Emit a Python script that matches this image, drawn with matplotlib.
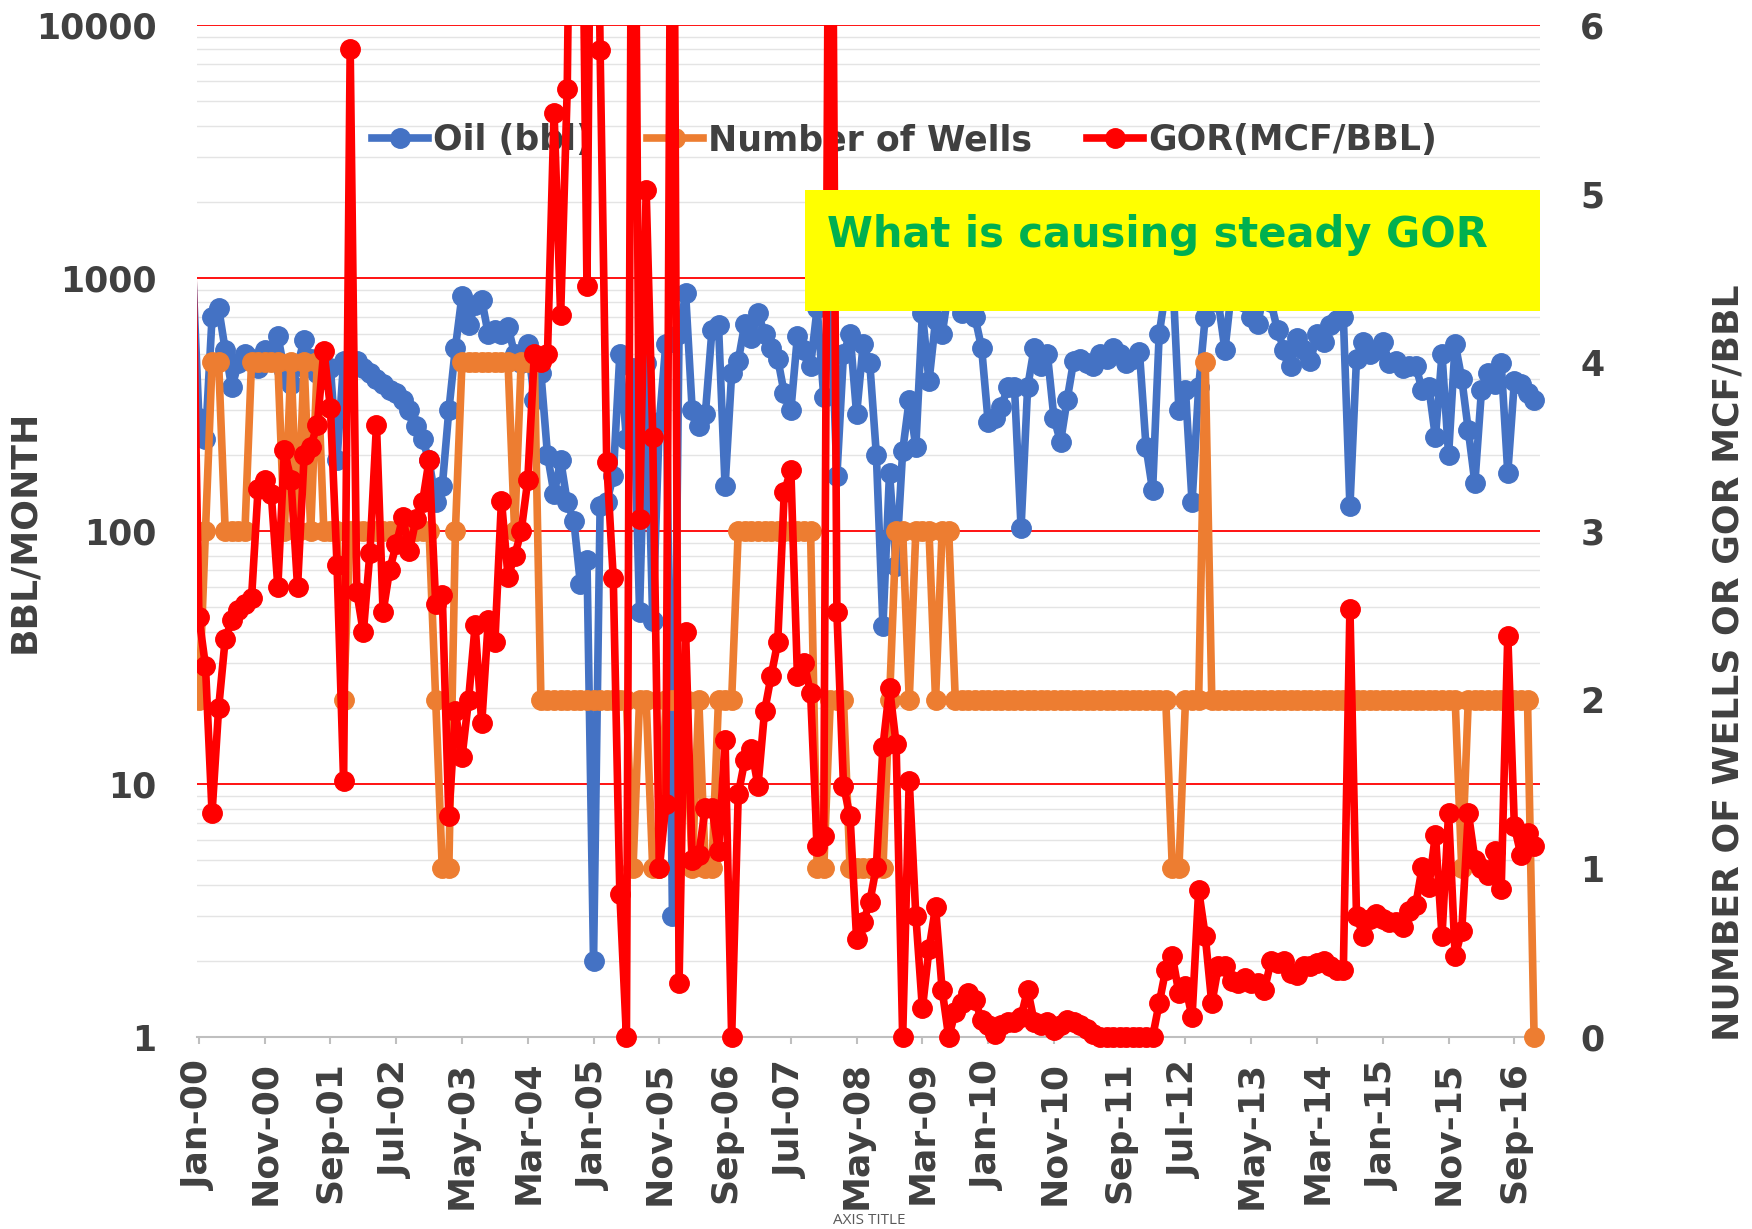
import matplotlib
matplotlib.use('Agg')
import matplotlib.pyplot as plt
import numpy as np
from matplotlib.patches import Rectangle
from matplotlib.transforms import Bbox, TransformedBbox

# monthly values, Dec-99 .. Dec-16 (first point sits just left of the axis)
oil = [1170, 280, 230, 700, 760, 520, 370, 460, 500, 480, 440,
       520, 470, 590, 430, 380, 450, 570, 480, 420, 400,
       440, 190, 470, 460, 470, 440, 420, 400, 380, 360,
       350, 330, 300, 260, 230, 190, 130, 150, 300, 530,
       850, 650, 780, 820, 600, 620, 600, 640, 500, 460,
       550, 330, 420, 200, 140, 190, 130, 110, 62, 77,
       2, 125, 130, 165, 500, 230, 440, 48, 460, 44,
       270, 550, 3, 600, 870, 300, 260, 290, 620, 650,
       150, 420, 470, 660, 580, 730, 600, 530, 480, 350,
       300, 590, 520, 450, 760, 340, 900, 165, 500, 600,
       290, 550, 460, 200, 42, 170, 73, 207, 330, 215,
       730, 390, 680, 600, 900, 1000, 730, 900, 700, 530,
       270, 280, 310, 370, 370, 103, 370, 530, 450, 500,
       280, 225, 330, 470, 480, 460, 450, 500, 480, 530,
       500, 460, 480, 510, 215, 145, 600, 900, 1100, 300,
       360, 130, 370, 700, 1000, 800, 520, 900, 1200, 800,
       700, 660, 900, 800, 620, 520, 450, 580, 520, 470,
       600, 560, 650, 680, 700, 125, 480, 560, 500, 520,
       560, 460, 470, 440, 450, 450, 360, 370, 235, 500,
       200, 550, 400, 250, 155, 360, 420, 380, 460, 170,
       390, 380, 350, 330]

wells = [2, 2, 3, 4, 4, 3, 3, 3, 3, 4, 4,
         4, 4, 4, 3, 4, 3, 4, 3, 4, 3,
         3, 3, 2, 3, 3, 3, 3, 3, 3, 3,
         3, 3, 3, 3, 3, 3, 2, 1, 1, 3,
         4, 4, 4, 4, 4, 4, 4, 4, 3, 4,
         4, 4, 2, 2, 2, 2, 2, 2, 2, 2,
         2, 2, 2, 2, 2, 2, 1, 2, 2, 1,
         1, 2, 2, 2, 2, 1, 2, 1, 1, 2,
         2, 2, 3, 3, 3, 3, 3, 3, 3, 3,
         3, 3, 3, 3, 1, 1, 2, 2, 2, 1,
         1, 1, 1, 1, 1, 2, 3, 3, 2, 3,
         3, 3, 2, 3, 3, 2, 2, 2, 2, 2,
         2, 2, 2, 2, 2, 2, 2, 2, 2, 2,
         2, 2, 2, 2, 2, 2, 2, 2, 2, 2,
         2, 2, 2, 2, 2, 2, 2, 2, 1, 1,
         2, 2, 2, 4, 2, 2, 2, 2, 2, 2,
         2, 2, 2, 2, 2, 2, 2, 2, 2, 2,
         2, 2, 2, 2, 2, 2, 2, 2, 2, 2,
         2, 2, 2, 2, 2, 2, 2, 2, 2, 2,
         2, 2, 1, 2, 2, 2, 2, 2, 2, 2,
         2, 2, 2, 0]

gor = [4.8, 2.49, 2.2, 1.33, 1.95, 2.36, 2.47, 2.53, 2.57, 2.6, 3.25,
       3.3, 3.22, 2.67, 3.48, 3.3, 2.67, 3.45, 3.5, 3.63, 4.07,
       3.73, 2.8, 1.52, 5.86, 2.64, 2.4, 2.87, 3.63, 2.52, 2.77,
       2.92, 3.08, 2.88, 3.07, 3.17, 3.42, 2.57, 2.62, 1.31, 1.93,
       1.66, 2.0, 2.44, 1.86, 2.47, 2.34, 3.18, 2.73, 2.85, 3.0,
       3.3, 4.05, 4.0, 4.05, 5.48, 4.28, 5.62, 9.0, 8.0, 4.45,
       9.0, 5.85, 3.41, 2.72, 0.85, 0.0, 9.0, 3.07, 5.02, 3.56,
       1.0, 1.38, 9.0, 0.32, 2.4, 1.05, 1.08, 1.36, 1.36, 1.1,
       1.76, 0.0, 1.44, 1.64, 1.71, 1.49, 1.93, 2.14, 2.34, 3.23,
       3.36, 2.14, 2.22, 2.04, 1.13, 1.19, 9.0, 2.52, 1.49, 1.31,
       0.58, 0.68, 0.8, 1.01, 1.72, 2.07, 1.74, 0.0, 1.52, 0.72,
       0.17, 0.52, 0.77, 0.28, 0.0, 0.15, 0.2, 0.26, 0.22, 0.1,
       0.07, 0.02, 0.07, 0.09, 0.09, 0.12, 0.28, 0.09, 0.07, 0.09,
       0.04, 0.07, 0.1, 0.09, 0.07, 0.05, 0.02, 0.0, 0.0, 0.0,
       0.0, 0.0, 0.0, 0.0, 0.0, 0.0, 0.2, 0.4, 0.48, 0.26,
       0.3, 0.12, 0.87, 0.6, 0.2, 0.42, 0.42, 0.33, 0.32, 0.35,
       0.32, 0.32, 0.28, 0.45, 0.44, 0.45, 0.38, 0.37, 0.42, 0.42,
       0.44, 0.45, 0.42, 0.4, 0.4, 2.54, 0.72, 0.6, 0.7, 0.73,
       0.7, 0.68, 0.68, 0.65, 0.75, 0.78, 1.01, 0.89, 1.2, 0.6,
       1.33, 0.48, 0.63, 1.33, 1.05, 1.0, 0.96, 1.1, 0.88, 2.38,
       1.25, 1.08, 1.21, 1.13]

tick_months = list(range(0, 201, 10))
tick_labels = ['Jan-00', 'Nov-00', 'Sep-01', 'Jul-02', 'May-03', 'Mar-04', 'Jan-05',
               'Nov-05', 'Sep-06', 'Jul-07', 'May-08', 'Mar-09', 'Jan-10', 'Nov-10',
               'Sep-11', 'Jul-12', 'May-13', 'Mar-14', 'Jan-15', 'Nov-15', 'Sep-16']

months = np.arange(len(oil)) - 1

TXT = '#404040'

fig = plt.figure(figsize=(17.52, 12.29), dpi=100)
ax = fig.add_axes([0.1124, 0.1562, 0.7666, 0.8235])
ax2 = ax.twinx()

# Dec-99 only feeds the line into the left edge, no marker for it
mk = slice(1, None)
l_oil, = ax.plot(months, oil, '-o', color='#4472C4', lw=5.5, ms=14, zorder=3, markevery=mk)
l_wells, = ax2.plot(months, wells, '-o', color='#ED7D31', lw=5.5, ms=14, zorder=3, markevery=mk)
l_gor, = ax2.plot(months, gor, '-o', color='#FF0000', lw=5.5, ms=14, zorder=4, markevery=mk)

ax.set_yscale('log')
ax.set_ylim(1, 10000)
ax2.set_ylim(0, 6)
ax.set_xlim(-0.3, 203.9)

# let markers at the bottom spill below the axis, keep tops clipped
for a, line in [(ax, l_oil), (ax2, l_wells), (ax2, l_gor)]:
    line.set_clip_path(None)
    line.set_clip_box(TransformedBbox(Bbox([[0, -0.03], [1.01, 1]]), a.transAxes))

ax.set_yticks([1, 10, 100, 1000, 10000], ['1', '10', '100', '1000', '10000'])
ax.yaxis.set_minor_locator(matplotlib.ticker.LogLocator(base=10, subs=np.arange(2, 10)))
ax.yaxis.set_minor_formatter(matplotlib.ticker.NullFormatter())
ax.grid(which='major', axis='y', color='#FF0000', lw=1.3, zorder=0)
ax.grid(which='minor', axis='y', color='#E4E4E4', lw=1.0, zorder=0)
ax.tick_params(axis='y', which='both', length=0, pad=29, labelsize=25, labelcolor=TXT)
for lab in ax.get_yticklabels():
    lab.set_fontweight('bold')

ax2.set_yticks(range(0, 7), [str(v) for v in range(0, 7)])
ax2.tick_params(axis='y', length=0, pad=29, labelsize=25, labelcolor=TXT)
for lab in ax2.get_yticklabels():
    lab.set_fontweight('bold')

ax.set_xticks(tick_months, tick_labels, rotation=90, fontweight='bold')
ax.tick_params(axis='x', length=5, width=1.5, color='#BFBFBF', pad=12,
               labelsize=26, labelcolor=TXT)

for a in (ax, ax2):
    for s in ('left', 'right', 'top'):
        a.spines[s].set_visible(False)
ax2.spines['bottom'].set_visible(False)
ax.spines['bottom'].set_color('#BFBFBF')
ax.spines['bottom'].set_linewidth(1.5)

ax.set_ylabel('BBL/MONTH', fontsize=26, fontweight='bold', color=TXT)
ax.yaxis.set_label_coords(-0.116, 0.5)
ax2.set_ylabel('NUMBER OF WELLS OR GOR MCF/BBL', fontsize=26, fontweight='bold', color=TXT)
ax2.yaxis.set_label_coords(1.128, 0.37)

ax.legend([l_oil, l_wells, l_gor], ['Oil (bbl)', 'Number of Wells', 'GOR(MCF/BBL)'],
          loc='center left', bbox_to_anchor=(0.12, 0.886), ncol=3, frameon=False,
          handlelength=1.6, handletextpad=0.15, columnspacing=1.6,
          prop={'weight': 'bold', 'size': 25}, labelcolor=TXT, borderaxespad=0)

ax2.add_patch(Rectangle((0.4527, 0.717), 0.5473, 0.12, transform=ax2.transAxes,
                        facecolor='#FFFF00', edgecolor='none', zorder=10, clip_on=False))
ax2.text(0.469, 0.7925, 'What is causing steady GOR', transform=ax2.transAxes,
         ha='left', va='center', fontsize=30, fontweight='bold', color='#00B050', zorder=11)

fig.text(0.496, 0.0073, 'AXIS TITLE', ha='center', va='center', fontsize=11,
         color='#595959', family=['Open Sans', 'DejaVu Sans'])

fig.savefig('out.png', dpi=100, facecolor='white')
